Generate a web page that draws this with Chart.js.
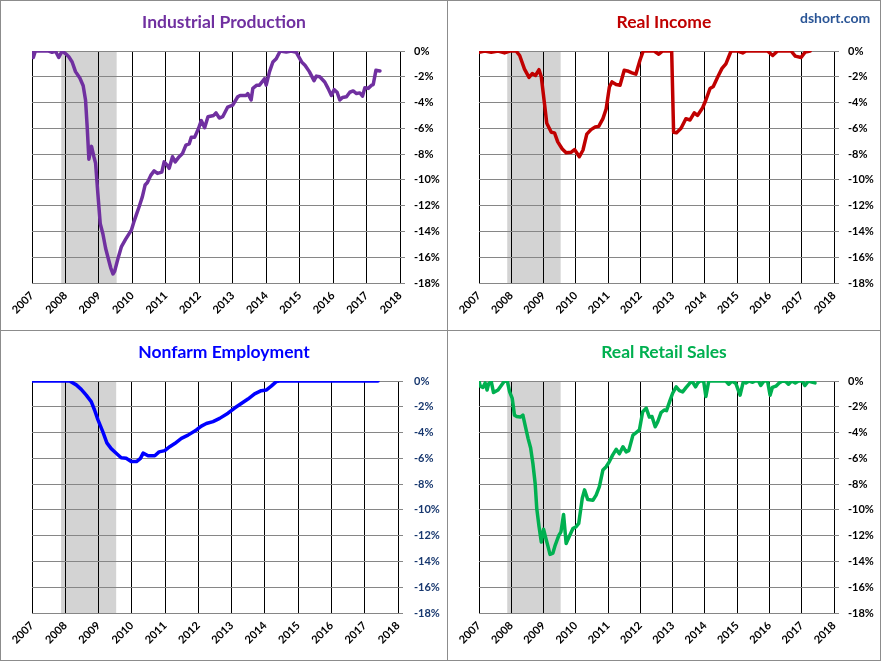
<!DOCTYPE html>
<html lang="en">
<head>
    <meta charset="UTF-8">
    <title>Big Four Economic Indicators</title>
    <script src="https://cdn.jsdelivr.net/npm/chart.js"></script>
    <style>
        body { margin: 0; background: white; font-family: 'Lato', sans-serif; }
        #frame { position: absolute; left: 0; top: 0; width: 879px; height: 659px; border: 1px solid #8c8c8c; }
        .vline { position: absolute; left: 447px; top: 0; width: 1px; height: 661px; background: #8c8c8c; }
        .hline { position: absolute; left: 0; top: 330px; width: 881px; height: 1px; background: #8c8c8c; }
        .panel { position: absolute; height: 329px; }
        .title { position: absolute; top: 10px; left: 0; right: 0; text-align: center; font-weight: bold; font-size: 17.5px; z-index: 2; }
        .brand { position: absolute; left: 800px; top: 9px; font-weight: bold; font-size: 14px; color: #2a5596; z-index: 2; }
    </style>
</head>
<body>
    <div id="frame"></div>
    <div class="vline"></div>
    <div class="hline"></div>

    <div class="panel" style="left:1px; top:1px; width:446px;">
        <div class="title" style="color:#7030a0;">Industrial Production</div>
        <canvas id="ipChart"></canvas>
    </div>
    <div class="panel" style="left:448px; top:1px; width:432px;">
        <div class="title" style="color:#c00000;">Real Income</div>
        <canvas id="riChart"></canvas>
    </div>
    <div class="brand">dshort.com</div>
    <div class="panel" style="left:1px; top:331px; width:446px;">
        <div class="title" style="color:#0000ff;">Nonfarm Employment</div>
        <canvas id="neChart"></canvas>
    </div>
    <div class="panel" style="left:448px; top:331px; width:432px;">
        <div class="title" style="color:#00b050;">Real Retail Sales</div>
        <canvas id="rsChart"></canvas>
    </div>

    <script>
        // recession band (Dec 2007 - Jun 2009), in decimal years
        const recession = [2007.875, 2009.53];
        const yearTicks = [2007, 2018];
        const pctTicks = [-18, 0];

        // Industrial Production, % off previous high
        const ipX = [2007.00, 2007.04, 2007.1, 2007.5, 2007.6, 2007.7, 2007.8, 2007.9, 2008.0, 2008.1, 2008.2, 2008.3, 2008.43, 2008.53, 2008.6, 2008.65, 2008.7, 2008.78, 2008.85, 2008.9, 2008.97, 2009.04, 2009.12, 2009.2, 2009.27, 2009.35, 2009.42, 2009.47, 2009.57, 2009.67, 2009.8, 2009.97, 2010.04, 2010.12, 2010.2, 2010.3, 2010.38, 2010.45, 2010.55, 2010.65, 2010.75, 2010.88, 2010.95, 2011.05, 2011.1, 2011.2, 2011.28, 2011.4, 2011.5, 2011.6, 2011.7, 2011.76, 2011.86, 2011.98, 2012.06, 2012.16, 2012.26, 2012.43, 2012.5, 2012.6, 2012.7, 2012.85, 2013.0, 2013.15, 2013.22, 2013.4, 2013.45, 2013.55, 2013.6, 2013.72, 2013.8, 2013.95, 2014.0, 2014.1, 2014.2, 2014.3, 2014.42, 2014.6, 2014.75, 2014.9, 2015.06, 2015.16, 2015.29, 2015.43, 2015.5, 2015.6, 2015.75, 2015.85, 2015.95, 2016.03, 2016.12, 2016.2, 2016.28, 2016.4, 2016.5, 2016.6, 2016.7, 2016.8, 2016.88, 2016.95, 2017.05, 2017.15, 2017.2, 2017.28, 2017.4];
        const ipY = [0, -0.5, 0, 0, -0.1, 0, -0.5, 0, -0.2, -0.45, -0.85, -1.6, -2.1, -2.7, -3.8, -5.9, -8.4, -7.4, -8.2, -8.7, -11.1, -13.4, -14.2, -15.3, -16, -16.8, -17.3, -17.1, -16.1, -15.2, -14.6, -13.9, -13.3, -12.7, -12.1, -11.3, -10.4, -10.2, -9.65, -9.3, -9.5, -9.4, -8.6, -8.9, -9.1, -8.2, -8.6, -8.2, -7.95, -7.3, -7.2, -6.7, -6.7, -6.0, -5.4, -5.95, -5.1, -5.0, -4.8, -5.2, -5.1, -4.35, -4.2, -3.55, -3.45, -3.45, -3.3, -3.8, -2.9, -2.65, -2.65, -2.15, -2.65, -1.6, -0.85, -0.6, 0, -0.08, 0, -0.1, -0.85, -1.1, -1.6, -2.3, -1.95, -2.0, -2.4, -2.9, -3.45, -3.0, -3.2, -3.8, -3.6, -3.55, -3.2, -3.1, -3.3, -3.25, -3.5, -2.85, -2.9, -2.65, -2.6, -1.5, -1.55];

        // Real Income
        const riX = [2007.0, 2007.18, 2007.38, 2007.59, 2007.79, 2007.95, 2008.15, 2008.26, 2008.41, 2008.55, 2008.65, 2008.75, 2008.86, 2008.93, 2009.03, 2009.1, 2009.24, 2009.34, 2009.44, 2009.58, 2009.7, 2009.86, 2009.96, 2010.11, 2010.22, 2010.34, 2010.47, 2010.6, 2010.71, 2010.84, 2010.94, 2011.04, 2011.12, 2011.25, 2011.37, 2011.5, 2011.6, 2011.74, 2011.86, 2011.99, 2012.09, 2012.43, 2012.57, 2012.69, 2012.97, 2013.03, 2013.12, 2013.26, 2013.41, 2013.54, 2013.67, 2013.77, 2013.93, 2014.03, 2014.16, 2014.26, 2014.4, 2014.53, 2014.65, 2014.81, 2015.02, 2015.17, 2015.27, 2015.94, 2016.1, 2016.25, 2016.67, 2016.8, 2016.98, 2017.11, 2017.26];
        const riY = [-0.1, 0, -0.1, 0, -0.15, 0, 0, -0.35, -1.4, -2.05, -1.75, -1.9, -1.45, -2.0, -4.1, -5.6, -6.3, -6.35, -7.05, -7.6, -7.9, -7.85, -7.65, -8.2, -7.7, -6.45, -6.1, -5.9, -5.85, -5.25, -4.5, -2.8, -2.4, -2.6, -2.65, -1.5, -1.55, -1.7, -1.8, -0.7, 0, 0, -0.25, 0, 0, -6.3, -6.35, -6.0, -5.25, -5.35, -4.8, -5.0, -4.4, -3.8, -2.9, -2.75, -2.0, -1.35, -1.0, 0, 0, -0.15, 0, 0, -0.35, 0, 0, -0.4, -0.5, -0.08, 0];

        // Nonfarm Employment
        const neX = [2007.0, 2008.13, 2008.33, 2008.48, 2008.63, 2008.78, 2008.88, 2008.98, 2009.13, 2009.25, 2009.38, 2009.53, 2009.68, 2009.83, 2009.98, 2010.14, 2010.26, 2010.34, 2010.49, 2010.69, 2010.82, 2010.99, 2011.14, 2011.29, 2011.49, 2011.69, 2011.94, 2012.09, 2012.24, 2012.44, 2012.64, 2012.89, 2013.09, 2013.29, 2013.49, 2013.69, 2013.89, 2014.04, 2014.19, 2014.34, 2014.44, 2017.4];
        const neY = [0, 0, -0.3, -0.65, -1.1, -1.6, -2.25, -3.0, -3.95, -4.8, -5.25, -5.6, -5.95, -6.0, -6.25, -6.25, -6.0, -5.6, -5.8, -5.8, -5.5, -5.4, -5.1, -4.85, -4.45, -4.2, -3.8, -3.5, -3.3, -3.15, -2.9, -2.5, -2.1, -1.75, -1.4, -1.0, -0.75, -0.7, -0.4, -0.05, 0, 0];

        // Real Retail Sales
        const rsX = [2007.0, 2007.04, 2007.12, 2007.19, 2007.25, 2007.3, 2007.38, 2007.45, 2007.59, 2007.69, 2007.79, 2007.88, 2007.95, 2008.03, 2008.1, 2008.17, 2008.28, 2008.36, 2008.44, 2008.52, 2008.6, 2008.67, 2008.74, 2008.79, 2008.86, 2008.93, 2009.0, 2009.06, 2009.13, 2009.2, 2009.29, 2009.36, 2009.47, 2009.54, 2009.62, 2009.7, 2009.8, 2009.91, 2010.01, 2010.09, 2010.2, 2010.27, 2010.37, 2010.53, 2010.63, 2010.73, 2010.84, 2010.94, 2011.04, 2011.14, 2011.25, 2011.35, 2011.46, 2011.56, 2011.64, 2011.77, 2011.87, 2011.97, 2012.07, 2012.18, 2012.28, 2012.36, 2012.46, 2012.54, 2012.64, 2012.74, 2012.81, 2012.92, 2013.0, 2013.11, 2013.21, 2013.31, 2013.42, 2013.52, 2013.6, 2013.71, 2013.78, 2013.85, 2013.96, 2014.03, 2014.12, 2014.65, 2014.74, 2014.84, 2014.96, 2015.09, 2015.19, 2015.27, 2015.37, 2015.48, 2015.56, 2015.66, 2015.73, 2015.83, 2015.94, 2016.02, 2016.09, 2016.2, 2016.3, 2016.4, 2016.51, 2016.59, 2016.69, 2016.8, 2016.9, 2017.02, 2017.1, 2017.21, 2017.31, 2017.41];
        const rsY = [0, -0.4, -0.5, -0.15, -0.7, -0.2, -0.05, -0.9, -0.7, -0.35, 0, -0.05, -0.85, -1.35, -2.65, -2.75, -2.8, -2.65, -3.55, -4.45, -5.2, -6.4, -7.95, -9.9, -11.3, -12.5, -11.5, -12.1, -12.75, -13.45, -13.35, -12.75, -12.0, -11.7, -10.35, -12.6, -12.05, -11.45, -11.3, -11.05, -9.1, -8.45, -9.2, -9.25, -8.85, -8.2, -6.9, -6.65, -6.25, -5.75, -5.3, -5.65, -5.1, -5.5, -5.4, -4.2, -4.0, -3.8, -2.4, -2.1, -2.8, -2.75, -3.55, -3.15, -2.45, -2.25, -2.3, -1.5, -0.95, -0.45, -0.75, -0.85, -0.5, -0.2, 0, -0.45, -0.15, 0, 0, -1.2, 0, 0, -0.25, 0, -0.2, -1.1, -0.05, -0.15, 0, -0.1, 0, 0, -0.35, 0, 0, -1.1, -0.5, -0.4, -0.15, 0, -0.05, -0.25, 0, -0.15, 0, 0, -0.35, 0, -0.08, -0.15];

        const shadePlugin = {
            id: 'recessionShade',
            beforeDraw(chart) {
                const x = chart.scales.x, a = chart.chartArea, ctx = chart.ctx;
                const x0 = x.getPixelForValue(recession[0]);
                const x1 = x.getPixelForValue(recession[1]);
                ctx.save();
                ctx.fillStyle = '#d3d3d3';
                ctx.fillRect(x0, a.top + 1, x1 - x0, a.bottom - a.top - 1);
                ctx.restore();
            }
        };

        function makeChart(id, xs, ys, color, padLeft, axisWidth, tickColor, labelPad) {
            const pts = xs.map((v, i) => ({ x: v, y: ys[i] }));
            return new Chart(document.getElementById(id), {
                type: 'line',
                data: { datasets: [{ data: pts, borderColor: color, borderWidth: 3.5, borderJoinStyle: 'round', borderCapStyle: 'round', pointRadius: 0, tension: 0, fill: false }] },
                options: {
                    responsive: true,
                    maintainAspectRatio: false,
                    animation: false,
                    events: [],
                    layout: { padding: { left: padLeft, top: 50, right: 0, bottom: 0 } },
                    plugins: { legend: { display: false }, tooltip: { enabled: false } },
                    scales: {
                        x: {
                            type: 'linear',
                            min: yearTicks[0], max: yearTicks[1],
                            afterFit: s => { s.height = 47; },
                            border: { display: false },
                            grid: { color: '#000', lineWidth: 1, drawTicks: false },
                            ticks: {
                                stepSize: 1, autoSkip: false, minRotation: 45, maxRotation: 45,
                                padding: 6, color: '#000',
                                font: { family: 'Lato', weight: 'bold', size: 11 },
                                callback: v => String(v)
                            }
                        },
                        y: {
                            position: 'right',
                            min: pctTicks[0], max: pctTicks[1],
                            afterFit: s => { s.width = axisWidth; },
                            border: { display: false },
                            grid: { color: '#868686', lineWidth: 1, tickLength: 5 },
                            ticks: {
                                stepSize: 2, padding: labelPad, color: tickColor,
                                font: { family: 'Lato', weight: 'bold', size: 11 },
                                callback: v => v + '%'
                            }
                        }
                    }
                },
                plugins: [shadePlugin]
            });
        }

        document.querySelectorAll('.panel').forEach(p => { p.querySelector('canvas').parentNode.style.height = '329px'; });

        makeChart('ipChart', ipX, ipY, '#7030a0', 31, 47, '#000', 9);
        makeChart('riChart', riX, riY, '#c00000', 31, 46, '#000', 9);
        makeChart('neChart', neX, neY, '#0000ff', 31, 49, '#17376e', 11);
        makeChart('rsChart', rsX, rsY, '#00b050', 31, 46, '#000', 9);
    </script>
</body>
</html>
